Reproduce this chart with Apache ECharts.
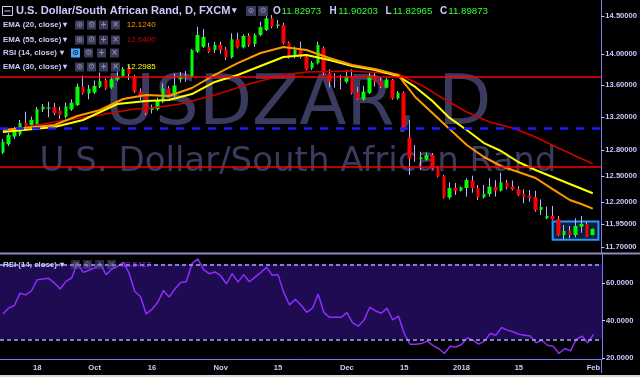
<!DOCTYPE html>
<html><head><meta charset="utf-8">
<script src="https://cdn.jsdelivr.net/npm/echarts@6/dist/echarts.min.js"></script>
<style>html,body{margin:0;padding:0;background:#000;}#c{width:640px;height:377px;}</style>
</head><body><div id="c"></div>
<script>
// ---------- DATA ----------
const dates = [
'2017-09-08','2017-09-11','2017-09-12','2017-09-13','2017-09-14','2017-09-15','2017-09-18','2017-09-19','2017-09-20','2017-09-21','2017-09-22','2017-09-25','2017-09-26','2017-09-27','2017-09-28','2017-09-29',
'2017-10-02','2017-10-03','2017-10-04','2017-10-05','2017-10-06','2017-10-09','2017-10-10','2017-10-11','2017-10-12','2017-10-13','2017-10-16','2017-10-17','2017-10-18','2017-10-19','2017-10-20','2017-10-23','2017-10-24','2017-10-25','2017-10-26','2017-10-27','2017-10-30','2017-10-31',
'2017-11-01','2017-11-02','2017-11-03','2017-11-06','2017-11-07','2017-11-08','2017-11-09','2017-11-10','2017-11-13','2017-11-14','2017-11-15','2017-11-16','2017-11-17','2017-11-20','2017-11-21','2017-11-22','2017-11-23','2017-11-24','2017-11-27','2017-11-28','2017-11-29','2017-11-30',
'2017-12-01','2017-12-04','2017-12-05','2017-12-06','2017-12-07','2017-12-08','2017-12-11','2017-12-12','2017-12-13','2017-12-14','2017-12-15','2017-12-18','2017-12-19','2017-12-20','2017-12-21','2017-12-22','2017-12-26','2017-12-27','2017-12-28','2017-12-29',
'2018-01-01','2018-01-02','2018-01-03','2018-01-04','2018-01-05','2018-01-08','2018-01-09','2018-01-10','2018-01-11','2018-01-12','2018-01-15','2018-01-16','2018-01-17','2018-01-18','2018-01-19','2018-01-22','2018-01-23','2018-01-24','2018-01-25','2018-01-26','2018-01-29','2018-01-30','2018-01-31',
'2018-02-01','2018-02-02'];

const opens = [12.771,12.871,12.964,12.988,13.132,13.104,13.113,13.294,13.304,13.321,13.282,13.202,13.294,13.349,13.579,13.493,13.505,13.579,13.663,13.568,13.669,13.714,13.816,13.697,13.516,13.462,
13.288,13.300,13.390,13.558,13.468,13.672,13.695,13.704,14.027,14.090,14.088,14.049,14.114,14.058,13.953,14.189,14.084,14.233,14.128,14.247,14.313,14.469,14.366,14.380,14.144,13.970,
14.043,13.962,13.812,13.877,14.071,13.749,13.669,13.659,13.641,13.714,13.512,13.420,13.499,13.714,13.654,13.566,13.663,13.432,13.503,12.955,12.710,12.692,12.692,12.744,12.587,12.498,
12.251,12.362,12.328,12.359,12.445,12.359,12.251,12.290,12.370,12.328,12.422,12.374,12.344,12.290,12.271,12.253,12.109,12.016,12.042,12.008,11.831,11.875,11.831,11.923,11.953,11.82973];
const highs = [12.934,13.007,13.080,13.165,13.267,13.206,13.325,13.362,13.390,13.374,13.329,13.380,13.420,13.619,13.720,13.600,13.657,13.759,13.682,13.695,13.800,13.829,13.854,13.727,13.558,13.486,
13.355,13.442,13.621,13.588,13.746,13.766,13.778,14.062,14.358,14.326,14.144,14.158,14.158,14.088,14.269,14.277,14.253,14.269,14.269,14.424,14.536,14.513,14.446,14.410,14.160,14.095,
14.158,13.983,13.906,14.158,14.095,13.800,13.749,13.727,13.791,13.800,13.575,13.588,13.757,13.757,13.695,13.688,13.676,13.524,13.518,13.165,12.862,12.783,12.771,12.767,12.614,12.509,
12.422,12.416,12.376,12.471,12.501,12.393,12.393,12.471,12.451,12.536,12.451,12.445,12.382,12.344,12.336,12.328,12.230,12.146,12.154,12.042,11.942,11.931,12.016,12.042,11.978,11.90203];
const lows = [12.755,12.851,12.934,12.970,13.086,13.086,13.098,13.263,13.198,13.226,13.177,13.183,13.276,13.337,13.480,13.420,13.486,13.562,13.537,13.550,13.650,13.702,13.663,13.499,13.411,13.226,
13.245,13.282,13.374,13.455,13.449,13.631,13.641,13.688,14.010,14.075,14.010,14.010,14.001,13.919,13.938,14.068,14.068,14.090,14.090,14.233,14.300,14.336,14.336,14.121,13.938,13.941,
13.938,13.785,13.791,13.861,13.727,13.570,13.566,13.545,13.621,13.480,13.411,13.405,13.486,13.579,13.562,13.556,13.417,13.417,13.062,12.509,12.664,12.567,12.678,12.573,12.480,12.239,
12.228,12.279,12.319,12.260,12.305,12.222,12.239,12.260,12.260,12.317,12.342,12.331,12.268,12.184,12.203,12.090,12.053,12.005,11.997,11.820,11.784,11.795,11.806,11.856,11.806,11.82965];
const closes = [12.902,12.983,13.025,13.128,13.098,13.165,13.297,13.328,13.319,13.251,13.226,13.331,13.378,13.579,13.495,13.552,13.588,13.650,13.552,13.672,13.710,13.804,13.740,13.516,13.453,13.247,
13.313,13.411,13.558,13.474,13.594,13.707,13.717,14.049,14.247,14.220,14.023,14.114,14.049,13.953,14.189,14.084,14.233,14.114,14.247,14.350,14.469,14.357,14.386,14.137,13.953,14.049,
13.958,13.801,13.884,14.114,13.749,13.641,13.659,13.650,13.714,13.495,13.420,13.516,13.714,13.641,13.579,13.669,13.432,13.503,13.080,12.704,12.700,12.716,12.744,12.585,12.490,12.251,
12.359,12.328,12.367,12.451,12.356,12.251,12.290,12.374,12.328,12.425,12.365,12.344,12.279,12.260,12.249,12.109,12.143,12.042,12.005,11.831,11.875,11.831,11.931,11.953,11.812,11.89873];

// EMA lines at sample bars: [bar index, value]
const ema20 = [[0,13.043],[9,13.104],[13,13.214],[17,13.288],[21,13.424],[25,13.474],[29,13.462],[33,13.562],[37,13.727],[41,13.880],[45,14.010],[49,14.088],[53,14.049],[57,13.945],[61,13.855],[65,13.804],[69,13.727],[72,13.449],[75,13.251],[78,13.055],[81,12.862],[84,12.720],[87,12.614],[90,12.544],[93,12.474],[96,12.347],[99,12.222],[101,12.177],[103,12.124]];
const ema30 = [[0,13.019],[9,13.080],[14,13.165],[20,13.362],[25,13.399],[29,13.411],[33,13.486],[37,13.638],[41,13.727],[45,13.842],[49,13.958],[53,13.983],[57,13.919],[61,13.842],[65,13.791],[69,13.714],[72,13.575],[75,13.399],[78,13.190],[81,13.043],[84,12.886],[87,12.791],[90,12.661],[93,12.567],[96,12.486],[99,12.405],[103,12.2985]];
const ema55 = [[0,13.031],[10,13.153],[17,13.226],[23,13.300],[26,13.313],[31,13.362],[37,13.474],[43,13.613],[49,13.727],[53,13.766],[61,13.778],[69,13.740],[73,13.600],[77,13.424],[81,13.263],[85,13.141],[89,13.068],[93,12.958],[97,12.827],[100,12.732],[103,12.640]];

const rsi = [43.5,46.6,48.0,54.6,53.7,55.9,61.8,62.2,62.5,60.0,56.8,60.9,62.7,70.8,65.7,66.8,68.1,70.4,64.5,67.5,68.9,71.1,65.4,55.5,52.8,43.5,
46.0,49.6,56.0,52.5,56.8,60.3,60.7,70.4,72.9,67.2,65.0,65.9,63.9,59.5,65.0,60.5,64.5,60.7,63.2,65.7,68.4,64.1,64.5,54.9,48.3,51.4,
48.3,44.4,46.6,54.1,44.2,41.7,41.7,41.7,44.2,38.8,37.0,40.3,47.1,45.1,43.9,46.6,40.3,42.4,33.1,27.4,27.4,27.7,29.0,26.8,25.1,22.4,
26.3,25.9,27.2,30.8,29.5,27.4,29.0,33.1,32.2,36.3,34.9,34.0,32.7,32.2,31.7,28.1,29.5,26.8,26.3,22.4,25.1,23.8,29.9,31.7,28.1,32.54];

const levelsRed = [13.70, 12.61];
const levelBlue = 13.07;
const boxDates = ['2018-01-23','2018-02-02'];
const boxPrices = [11.98, 11.78];
const lastPrice = 11.89873;

const priceTicks = [14.5,14.0,13.6,13.2,12.8,12.5,12.2,11.95,11.7];
const rsiTicks = [20,40,60];
const tickDates = ['2017-09-18','2017-10-02','2017-10-16','2017-11-01','2017-11-15','2017-12-01','2017-12-15','2018-01-01','2018-01-15','2018-02-01'];
const tickTexts = ['18','Oct','16','Nov','15','Dec','15','2018','15','Feb'];

// ---------- STYLE ----------
const LAV = '#cacaff';
const AX = '#7a7af0';
const WICK = '#b4b4ff';
const F = 'Liberation Sans';

const wickData = opens.map((o,i)=>[o, closes[i], lows[i], highs[i]]);
const bodyData = opens.map((o,i)=>[o, closes[i], Math.min(o,closes[i]), Math.max(o,closes[i])]);

function T(x,y,s,fill,size,weight,family,align){
  return {type:'text', z:100, silent:true,
    style:{text:s, x:x, y:y, fill:fill||LAV, font:(weight||'bold')+' '+(size||8)+'px "'+(family||F)+'"',
      textAlign:align||'left', align:align||'left', textVerticalAlign:'middle', verticalAlign:'middle'}};
}
function R(x,y,w,h,fill){ return {type:'rect', z:99, silent:true, shape:{x:x,y:y,width:w,height:h}, style:{fill:fill}}; }
function icons(xs, y, hl, dim, size){
  const g = ['\u2299','\u2699','+','\u00d7'];
  const s = size||9;
  const out = [];
  xs.forEach((x,k)=>{
    const isH = hl && k===0;
    const bg = isH?'#47a9f5':(dim?'rgba(90,90,130,0.45)':'#3a3a5a');
    const fg = isH?'#1a2040':(dim?'rgba(150,150,190,0.6)':'#8c8cb0');
    out.push(R(x,y-s/2,s,s,bg));
    out.push(T(x+s/2,y,g[k],fg,8,'bold','DejaVu Sans','center'));
  });
  return out;
}

const graphics = [
  // watermark
  {type:'text', z:-10, silent:true, style:{text:'USDZAR, D', x:298, y:106, fill:'#3b3b60', font:'69px "DejaVu Sans"', textAlign:'center', align:'center', textVerticalAlign:'middle', verticalAlign:'middle'}},
  {type:'text', z:-10, silent:true, style:{text:'U.S. Dollar/South African Rand', x:298, y:162, fill:'#3b3b60', font:'34px "DejaVu Sans"', textAlign:'center', align:'center', textVerticalAlign:'middle', verticalAlign:'middle'}},
  // header
  {type:'rect', z:100, silent:true, shape:{x:2.5,y:6.5,width:10,height:9}, style:{fill:'none', stroke:LAV, lineWidth:1}},
  {type:'line', z:100, silent:true, shape:{x1:4.5,y1:11,x2:10.5,y2:11}, style:{stroke:LAV, lineWidth:1}},
  T(16,11,'U.S. Dollar/South African Rand, D, FXCM',LAV,11.1,'bold'),
  T(232,11,'\u25BE',LAV,9,'bold'),
  ...icons([246,258],11,false,false,10).slice(0,4),
  T(273,11,'O',LAV,10,'bold'), T(281.5,11,'11.82973','#33ff33',9.7,'normal'),
  T(329.5,11,'H',LAV,10,'bold'), T(338.3,11,'11.90203','#33ff33',9.7,'normal'),
  T(385.5,11,'L',LAV,10,'bold'), T(392.7,11,'11.82965','#33ff33',9.7,'normal'),
  T(440,11,'C',LAV,10,'bold'), T(448.3,11,'11.89873','#33ff33',9.7,'normal'),
  // legend rows
  T(3,25,'EMA (20, close)',LAV,7.9), T(62.5,25,'\u25BE',LAV,8), T(126.7,25,'12.1240','#ff9900',8,'normal'),
  T(3,40,'EMA (55, close)',LAV,7.9), T(62.5,40,'\u25BE',LAV,8), T(126.7,40,'12.6400','#cc0000',8,'normal'),
  T(3,53,'RSI (14, close)',LAV,7.9), T(59.5,53,'\u25BE',LAV,8),
  T(3,67,'EMA (30, close)',LAV,7.9), T(62.5,67,'\u25BE',LAV,8), T(126.7,67,'12.2985','#ffff00',8,'normal'),
  ...icons([75,87,99,111],25), ...icons([75,87,99,111],40), ...icons([71,84,97,110],53,true), ...icons([75,87,99,111],67),
  // rsi legend
  T(3,264.5,'RSI (14, close)',LAV,7.9), T(59.5,264.5,'\u25BE',LAV,8), ...icons([71,83,95,107],264.5,false,true),
  T(121.7,264.5,'32.5417','#9b30ff',8,'normal'),
  // separators
  {type:'line', z:50, silent:true, shape:{x1:0,y1:253.5,x2:640,y2:253.5}, style:{stroke:'#8a8ac0', lineWidth:2}},
  {type:'line', z:50, silent:true, shape:{x1:601.5,y1:359,x2:601.5,y2:373}, style:{stroke:AX, lineWidth:1}},
  {type:'line', z:50, silent:true, shape:{x1:0,y1:376,x2:640,y2:376}, style:{stroke:'#d8d8d8', lineWidth:2}}
];

const chart = echarts.init(document.getElementById('c'), null, {renderer:'canvas'});
chart.setOption({
  backgroundColor:'#000000',
  animation:false,
  grid:[{left:0,right:38,top:0,height:253.3},{left:0,right:38,top:253.3,height:106}],
  xAxis:[
    {type:'category', gridIndex:0, data:dates, boundaryGap:true, axisLine:{show:false}, axisTick:{show:false}, axisLabel:{show:false}, splitLine:{show:false}},
    {type:'category', gridIndex:1, data:dates, boundaryGap:true, axisLine:{show:true, lineStyle:{color:AX, width:1}}, axisTick:{show:false}, splitLine:{show:false},
     axisLabel:{color:LAV, fontFamily:F, fontWeight:'bold', fontSize:7.6, margin:5,
       interval:(i,v)=>tickDates.indexOf(v)>=0, formatter:(v)=>{const k=tickDates.indexOf(v); return k>=0?tickTexts[k]:'';}}}
  ],
  yAxis:[
    {type:'log', logBase:Math.E, gridIndex:0, position:'right', min:11.6316, max:14.7171,
     axisLine:{show:true, lineStyle:{color:AX, width:1}}, splitLine:{show:false},
     axisTick:{show:true, length:3, lineStyle:{color:LAV}, customValues:priceTicks},
     axisLabel:{show:true, color:LAV, fontFamily:F, fontWeight:'bold', fontSize:7.6, margin:4, customValues:priceTicks, formatter:(v)=>Number(v).toFixed(5)}},
    {type:'value', gridIndex:1, position:'right', min:19.33, max:75.87,
     axisLine:{show:true, lineStyle:{color:AX, width:1}}, splitLine:{show:false},
     axisTick:{show:true, length:3, lineStyle:{color:LAV}, customValues:rsiTicks},
     axisLabel:{show:true, color:LAV, fontFamily:F, fontWeight:'bold', fontSize:7.6, margin:4, customValues:rsiTicks, formatter:(v)=>Number(v).toFixed(4)}}
  ],
  series:[
    {type:'candlestick', name:'wick', xAxisIndex:0, yAxisIndex:0, barWidth:1, data:wickData, z:2,
     itemStyle:{color:WICK,color0:WICK,borderColor:WICK,borderColor0:WICK,borderWidth:1},
     markLine:{symbol:'none', silent:true, animation:false,
       data:[
         {yAxis:levelsRed[0], lineStyle:{color:'#ff0000', width:1.5, type:'solid'}, label:{show:false}},
         {yAxis:levelsRed[1], lineStyle:{color:'#ff0000', width:1.5, type:'solid'}, label:{show:false}},
         {yAxis:levelBlue, lineStyle:{color:'#1a1aff', width:2.5, type:[8,8]}, label:{show:false}}
       ]}},
    {type:'candlestick', name:'body', xAxisIndex:0, yAxisIndex:0, barWidth:4, data:bodyData, z:3,
     itemStyle:{color:'#00ff00',color0:'#ff0000',borderColor:'#00ff00',borderColor0:'#ff0000',borderWidth:0},
     markArea:{silent:true, itemStyle:{color:'rgba(40,110,210,0.28)', borderColor:'#2a95ff', borderWidth:2},
       data:[[{xAxis:boxDates[0], yAxis:boxPrices[0]},{xAxis:boxDates[1], yAxis:boxPrices[1]}]]},
     markLine:{symbol:'none', silent:true, animation:false,
       data:[{yAxis:lastPrice, lineStyle:{opacity:0}, label:{show:true, position:'end', distance:0, formatter:lastPrice.toFixed(5),
         backgroundColor:'#00ff00', color:'#6a6a6a', fontFamily:F, fontWeight:'bold', fontSize:7.6, padding:[2,5,2,3]}}]}},
    {type:'line', name:'EMA55', xAxisIndex:0, yAxisIndex:0, data:ema55, symbol:'none', z:4, lineStyle:{color:'#d00000', width:1.5}},
    {type:'line', name:'EMA30', xAxisIndex:0, yAxisIndex:0, data:ema30, symbol:'none', z:4, lineStyle:{color:'#ffff00', width:2}},
    {type:'line', name:'EMA20', xAxisIndex:0, yAxisIndex:0, data:ema20, symbol:'none', z:4, lineStyle:{color:'#ff9900', width:2}},
    {type:'line', name:'RSI', xAxisIndex:1, yAxisIndex:1, data:rsi, symbol:'none', z:4, lineStyle:{color:'#8f2cff', width:1.5},
     markArea:{silent:true, itemStyle:{color:'#1e0b52'}, data:[[{yAxis:30},{yAxis:70}]]},
     markLine:{symbol:'none', silent:true, animation:false, label:{show:false},
       lineStyle:{color:'#a8a8ff', type:[4,3], width:1.5}, data:[{yAxis:70},{yAxis:30}]}}
  ],
  graphic:graphics
});
</script></body></html>
